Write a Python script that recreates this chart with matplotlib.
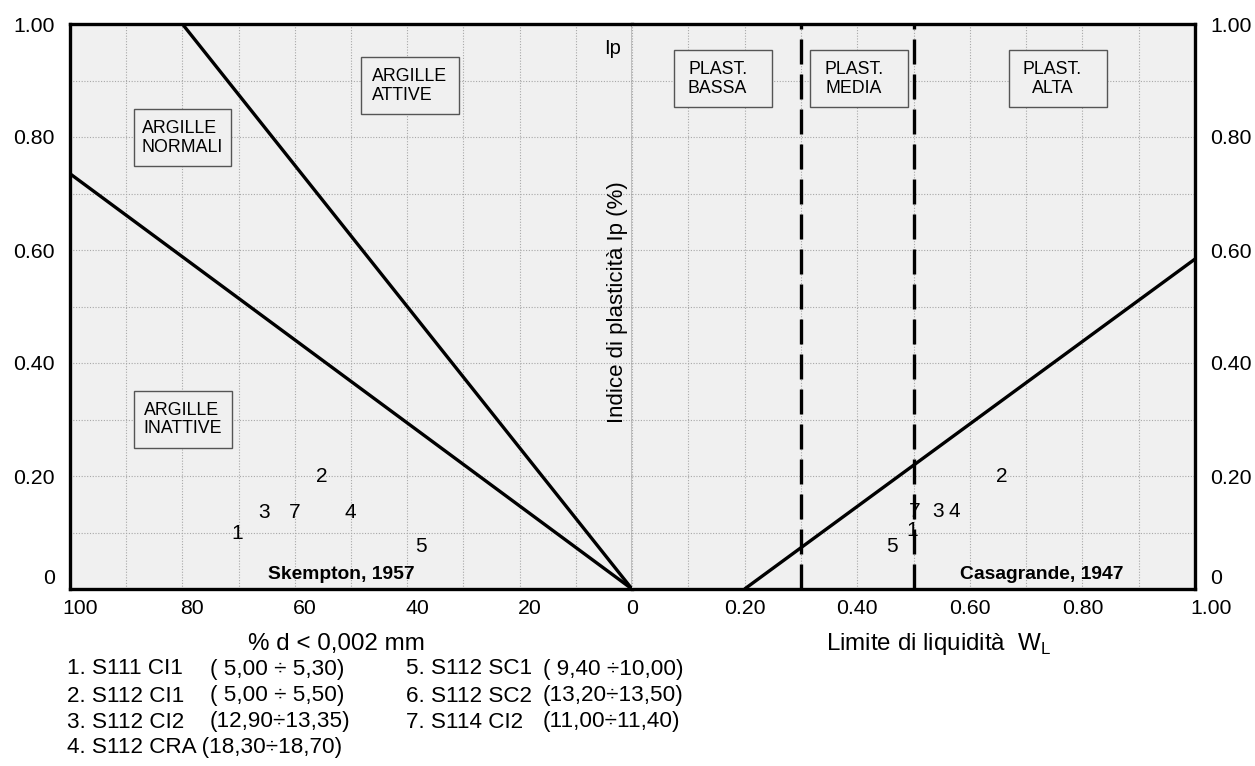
import matplotlib
matplotlib.use("Agg")
import matplotlib.pyplot as plt
from matplotlib.patches import Rectangle
from matplotlib.transforms import ScaledTranslation

plt.rcParams['font.family'] = ['Liberation Sans', 'DejaVu Sans']

# ---------------- data ----------------
# Skempton (1957) activity lines: % clay fraction vs Ip
skempton_inactive_x = [0, 100]
skempton_inactive_y = [0.0, 0.735]
skempton_active_x = [0, 80]
skempton_active_y = [0.0, 1.00]

# Casagrande (1947) A-line: liquid limit vs Ip
casagrande_x = [0.20, 1.00]
casagrande_y = [0.0, 0.584]
plasticity_limits = [0.30, 0.50]

# samples on the Skempton chart
skempton_ids = ['1', '2', '3', '7', '4', '5']
skempton_clay = [70.3, 55.2, 65.4, 60.0, 50.2, 37.6]
skempton_ip = [0.099, 0.199, 0.136, 0.136, 0.136, 0.075]

# samples on the Casagrande chart
casa_ids = ['2', '7', '3', '4', '1', '5']
casa_wl = [0.656, 0.502, 0.543, 0.573, 0.497, 0.462]
casa_ip = [0.200, 0.138, 0.138, 0.138, 0.103, 0.076]

# ticks
left_xticks = [100, 90, 80, 70, 60, 50, 40, 30, 20, 10, 0]
left_xlabels = ['100', '', '80', '', '60', '', '40', '', '20', '', '0']
right_xticks = [0.0, 0.1, 0.2, 0.3, 0.4, 0.5, 0.6, 0.7, 0.8, 0.9, 1.0]
right_xlabels = ['', '', '0.20', '', '0.40', '', '0.60', '', '0.80', '', '1.00']
yticks = [0.0, 0.1, 0.2, 0.3, 0.4, 0.5, 0.6, 0.7, 0.8, 0.9, 1.0]
ylabels = ['0', '', '0.20', '', '0.40', '', '0.60', '', '0.80', '', '1.00']

# zone labels
left_zones = ['ARGILLE\nNORMALI', 'ARGILLE\nATTIVE', 'ARGILLE\nINATTIVE']
left_zone_x = [80.0, 39.5, 79.9]
left_zone_y = [0.799, 0.891, 0.300]
right_zones = ['PLAST.\nBASSA', 'PLAST.\nMEDIA', 'PLAST.\nALTA']
right_zone_x = [0.161, 0.403, 0.756]
right_zone_y = [0.903, 0.903, 0.903]

legend_left_names = ['1. S111 CI1', '2. S112 CI1', '3. S112 CI2', '4. S112 CRA (18,30÷18,70)']
legend_left_ranges = ['( 5,00 ÷ 5,30)', '( 5,00 ÷ 5,50)', '(12,90÷13,35)', '']
legend_right_names = ['5. S112 SC1', '6. S112 SC2', '7. S114 CI2']
legend_right_ranges = ['( 9,40 ÷10,00)', '(13,20÷13,50)', '(11,00÷11,40)']

# ---------------- figure ----------------
W, H = 1255, 766
fig = plt.figure(figsize=(W / 100, H / 100), dpi=100)
fig.patch.set_facecolor('white')

bg = '#f0f0f0'
grid_kw = dict(linestyle=(0, (1, 1.5)), color='#a8a8a8', linewidth=0.8)
tick_fs = 15.3
spine_lw = 2.4

ax1 = fig.add_axes([70 / W, 1 - 589 / H, 562 / W, 565 / H])
ax2 = fig.add_axes([632 / W, 1 - 589 / H, 563 / W, 565 / H])

for ax in (ax1, ax2):
    ax.set_facecolor(bg)
    ax.set_ylim(0, 1)
    ax.set_yticks(yticks)
    ax.grid(True, **grid_kw)
    ax.set_axisbelow(True)
    for s in ax.spines.values():
        s.set_linewidth(spine_lw)
        s.set_color('black')

ax1.set_xlim(100, 0)
ax2.set_xlim(0, 1)

ax1.set_xticks(left_xticks)
ax1.set_xticklabels(left_xlabels, fontsize=tick_fs)
ax2.set_xticks(right_xticks)
ax2.set_xticklabels(right_xlabels, fontsize=tick_fs)

ax1.set_yticklabels(ylabels, fontsize=tick_fs)
ax2.yaxis.tick_right()
ax2.set_yticklabels(ylabels, fontsize=tick_fs)

ax1.tick_params(axis='both', length=0)
ax1.tick_params(axis='x', pad=7)
ax1.tick_params(axis='y', pad=11)
ax2.tick_params(axis='both', length=0)
ax2.tick_params(axis='x', pad=7)
ax2.tick_params(axis='y', pad=11)

ax1.spines['right'].set_linewidth(1.0)
ax2.spines['left'].set_visible(False)

# tick label nudges (pixels)
def nudge(label, dx=0, dy=0):
    label.set_transform(label.get_transform() + ScaledTranslation(dx / 100, dy / 100, fig.dpi_scale_trans))

for t, v in zip(ax1.xaxis.get_major_ticks(), left_xticks):
    if v != 0:
        nudge(t.label1, dx=10)
for t, v in zip(ax2.xaxis.get_major_ticks(), right_xticks):
    if v == 1.0:
        nudge(t.label1, dx=16)
for ax in (ax1, ax2):
    ticks = ax.yaxis.get_major_ticks()
    nudge(ticks[0].label1, dy=12)
    nudge(ticks[0].label2, dy=12)

# ---- lines ----
ax1.plot(skempton_inactive_x, skempton_inactive_y, color='black', lw=2.4, solid_capstyle='butt', zorder=3)
ax1.plot(skempton_active_x, skempton_active_y, color='black', lw=2.4, solid_capstyle='butt', zorder=3)
ax2.plot(casagrande_x, casagrande_y, color='black', lw=2.4, solid_capstyle='butt', zorder=3)
for xv in plasticity_limits:
    ax2.axvline(xv, color='black', lw=2.4, linestyle=(0, (7.5, 3)), zorder=3)

# ---- zone boxes ----
bw1, bh = 17.4, 0.101
for lab, cx, cy in zip(left_zones, left_zone_x, left_zone_y):
    ax1.add_patch(Rectangle((cx - bw1 / 2, cy - bh / 2), bw1, bh, facecolor=bg,
                            edgecolor='#555555', lw=1.0, zorder=4))
    ax1.text(cx, cy, lab, ha='center', va='center', multialignment='left',
             fontsize=12.8, linespacing=1.15, zorder=5)
bw2 = 0.174
for lab, cx, cy in zip(right_zones, right_zone_x, right_zone_y):
    ax2.add_patch(Rectangle((cx - bw2 / 2, cy - bh / 2), bw2, bh, facecolor=bg,
                            edgecolor='#555555', lw=1.0, zorder=4))
    ax2.text(cx - 0.009, cy, lab, ha='center', va='center', multialignment='center',
             fontsize=12.8, linespacing=1.15, zorder=5)

# ---- sample numbers ----
for lab, xv, yv in zip(skempton_ids, skempton_clay, skempton_ip):
    ax1.text(xv, yv, lab, ha='center', va='center', fontsize=15, zorder=6)
for lab, xv, yv in zip(casa_ids, casa_wl, casa_ip):
    ax2.text(xv, yv, lab, ha='center', va='center', fontsize=15, zorder=6)

ax1.text(51.8, 0.025, 'Skempton, 1957', ha='center', va='center', fontsize=13.9,
         fontweight='bold', zorder=6)
ax2.text(0.728, 0.025, 'Casagrande, 1947', ha='center', va='center', fontsize=13.9,
         fontweight='bold', zorder=6)
ax1.text(3.4, 0.957, 'Ip', ha='center', va='center', fontsize=14.5, zorder=6)

# ---- axis titles ----
fig.text(618 / W, 1 - 302 / H, 'Indice di plasticità Ip (%)', rotation=90,
         ha='center', va='center', fontsize=16)
fig.text(336 / W, 1 - 644 / H, '% d < 0,002 mm', ha='center', va='center', fontsize=17.4)
fig.text(939 / W, 1 - 644 / H, r'Limite di liquidità  W$_\mathregular{L}$', ha='center',
         va='center', fontsize=17.4)

# ---- legend of samples ----
rows_y = [669, 696, 722, 748]
leg_fs = 16.2
for i, (n, r) in enumerate(zip(legend_left_names, legend_left_ranges)):
    fig.text(67 / W, 1 - rows_y[i] / H, n, ha='left', va='center', fontsize=leg_fs)
    if r:
        fig.text(210 / W, 1 - rows_y[i] / H, r, ha='left', va='center', fontsize=leg_fs)
for i, (n, r) in enumerate(zip(legend_right_names, legend_right_ranges)):
    fig.text(406 / W, 1 - rows_y[i] / H, n, ha='left', va='center', fontsize=leg_fs)
    fig.text(543 / W, 1 - rows_y[i] / H, r, ha='left', va='center', fontsize=leg_fs)

fig.savefig('out.png', dpi=100)
